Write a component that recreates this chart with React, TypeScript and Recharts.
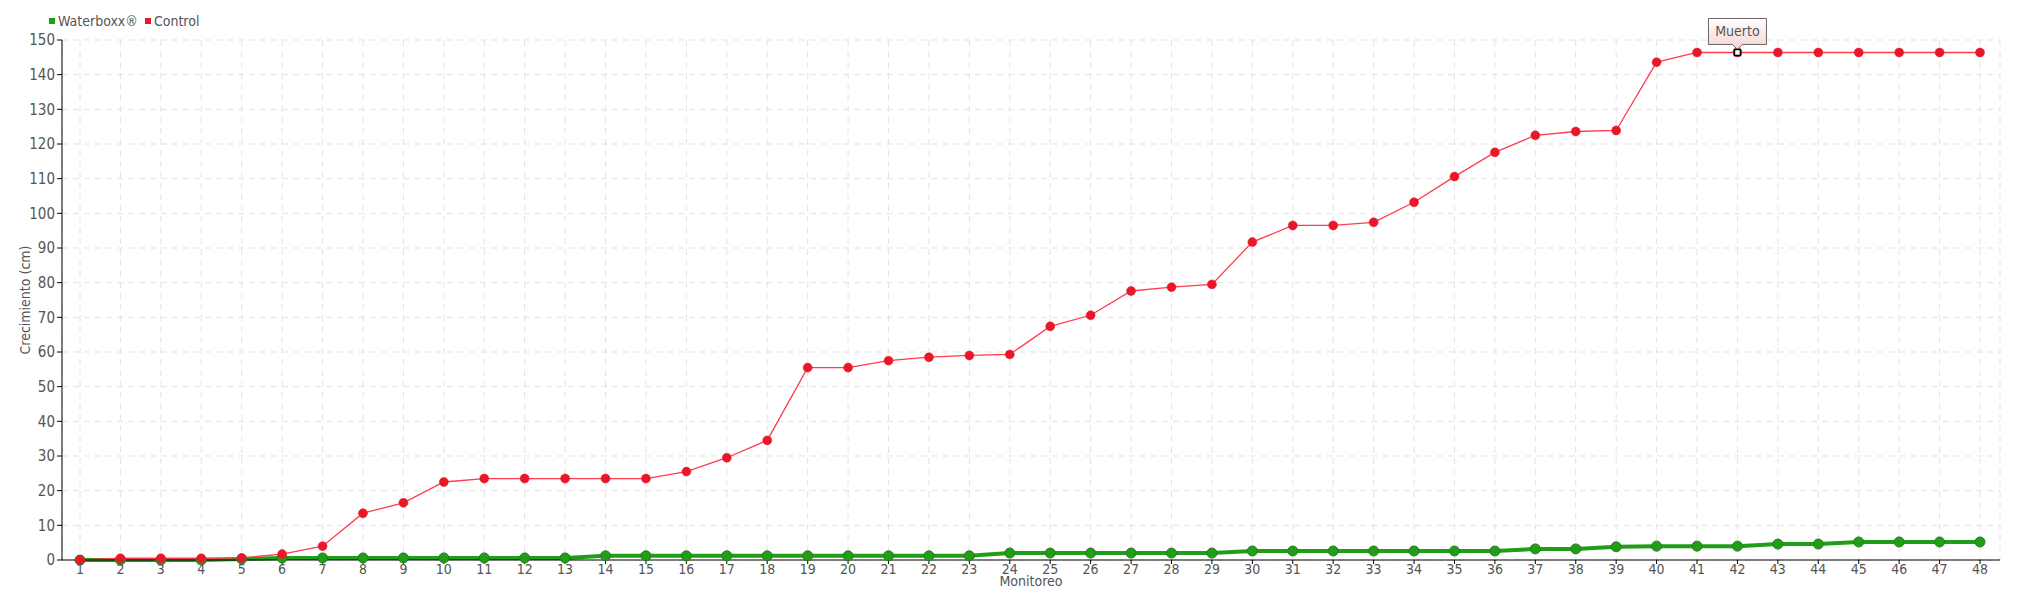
import { LineChart, Line, XAxis, YAxis, CartesianGrid, ReferenceDot } from 'recharts';

// Monitoreo (x categories)
const MONITOREOS = [
  '1', '2', '3', '4', '5', '6', '7', '8', '9', '10', '11', '12',
  '13', '14', '15', '16', '17', '18', '19', '20', '21', '22', '23', '24',
  '25', '26', '27', '28', '29', '30', '31', '32', '33', '34', '35', '36',
  '37', '38', '39', '40', '41', '42', '43', '44', '45', '46', '47', '48',
];

// Crecimiento (cm)
const WATERBOXX = [
  0, 0, 0, 0, 0.3, 0.6, 0.6, 0.6, 0.6, 0.6, 0.6, 0.6,
  0.6, 1.2, 1.2, 1.2, 1.2, 1.2, 1.2, 1.2, 1.2, 1.2, 1.2, 2.0,
  2.0, 2.0, 2.0, 2.0, 2.0, 2.6, 2.6, 2.6, 2.6, 2.6, 2.6, 2.6,
  3.2, 3.2, 3.8, 4.0, 4.0, 4.0, 4.6, 4.6, 5.2, 5.2, 5.2, 5.2,
];

const CONTROL = [
  0, 0.5, 0.5, 0.5, 0.6, 1.7, 4.0, 13.5, 16.5, 22.5, 23.5, 23.5,
  23.5, 23.5, 23.5, 25.5, 29.5, 34.5, 55.5, 55.5, 57.5, 58.5, 59, 59.3,
  67.4, 70.6, 77.6, 78.7, 79.5, 91.7, 96.5, 96.5, 97.4, 103.2, 110.6, 117.6,
  122.5, 123.6, 123.9, 143.6, 146.4, 146.4, 146.4, 146.4, 146.4, 146.4, 146.4, 146.4,
];

const Y_TICKS = [0, 10, 20, 30, 40, 50, 60, 70, 80, 90, 100, 110, 120, 130, 140, 150];

// the "Muerto" flag sits on this monitoreo
const MUERTO_INDEX = 41;

const FONT = "'Liberation Sans Narrow', 'DejaVu Sans Condensed', 'Roboto', sans-serif";
const GREEN = '#1f9e16';
const RED = '#e8182a';
const TEXT = '#555';

const LEGEND = [
  { name: 'Waterboxx®', color: GREEN },
  { name: 'Control', color: RED },
];

const data = MONITOREOS.map((m, i) => ({ m, waterboxx: WATERBOXX[i], control: CONTROL[i] }));

function MuertoMarker({ cx, cy }: any) {
  return (
    <g>
      <defs>
        <linearGradient id="muertoBg" x1="0" y1="0" x2="0" y2="1">
          <stop offset="0" stopColor="#ffffff" />
          <stop offset="1" stopColor="#f8d2d2" />
        </linearGradient>
      </defs>
      <path
        d={`M${cx - 29},${cy - 34} h58 v26 h-24 l-5,5 l-5,-5 h-24 z`}
        fill="url(#muertoBg)"
        stroke="#666"
        strokeWidth={1}
      />
      <text x={cx} y={cy - 16} textAnchor="middle" fontFamily={FONT} fontSize={14} fill={TEXT}>
        Muerto
      </text>
      <rect x={cx - 3} y={cy - 3} width={6} height={6} fill="#fff" stroke="#000" strokeWidth={1.5} />
    </g>
  );
}

export default function App() {
  return (
    <div style={{ position: 'absolute', left: 0, top: 0, width: 2020, height: 600, background: '#fff' }}>
      {/* legend, top-left */}
      <div
        style={{
          position: 'absolute',
          left: 49,
          top: 13,
          display: 'flex',
          gap: 7,
          fontFamily: FONT,
          fontSize: 14,
          color: TEXT,
          zIndex: 1,
        }}
      >
        {LEGEND.map((it) => (
          <span key={it.name} style={{ display: 'flex', alignItems: 'center', gap: 3 }}>
            <span style={{ width: 6, height: 6, background: it.color, display: 'inline-block' }} />
            {it.name}
          </span>
        ))}
      </div>
      <LineChart width={2020} height={600} data={data} margin={{ top: 40, right: 20, bottom: 0, left: 0 }}>
        <CartesianGrid stroke="#e3e3e3" strokeDasharray="6 5" />
        <XAxis
          dataKey="m"
          interval={0}
          padding={{ left: 18, right: 20 }}
          height={40}
          tickSize={4}
          tickMargin={0}
          stroke="#000"
          tick={{ fill: TEXT, fontFamily: FONT, fontSize: 14 }}
          label={({ viewBox }: any) => (
            <text
              x={viewBox.x + viewBox.width / 2}
              y={viewBox.y + 26}
              textAnchor="middle"
              fontFamily={FONT}
              fontSize={14}
              fill={TEXT}
            >
              Monitoreo
            </text>
          )}
        />
        <YAxis
          width={62}
          domain={[0, 150]}
          ticks={Y_TICKS}
          interval={0}
          tickSize={5}
          tickMargin={2}
          stroke="#000"
          tick={{ fill: TEXT, fontFamily: FONT, fontSize: 15 }}
          label={({ viewBox }: any) => {
            const x = 30;
            const y = viewBox.y + viewBox.height / 2;
            return (
              <text
                x={x}
                y={y}
                transform={`rotate(-90, ${x}, ${y})`}
                textAnchor="middle"
                fontFamily={FONT}
                fontSize={14}
                fill={TEXT}
              >
                Crecimiento (cm)
              </text>
            );
          }}
        />
        <Line
          dataKey="waterboxx"
          name="Waterboxx®"
          stroke={GREEN}
          strokeWidth={4}
          dot={{ r: 5, fill: GREEN, stroke: '#2b7a24', strokeWidth: 1 }}
          isAnimationActive={false}
        />
        <Line
          dataKey="control"
          name="Control"
          stroke="#ff3b4e"
          strokeWidth={1.3}
          dot={{ r: 4.5, fill: RED, stroke: RED, strokeWidth: 0.5 }}
          isAnimationActive={false}
        />
        <ReferenceDot
          x={MONITOREOS[MUERTO_INDEX]}
          y={CONTROL[MUERTO_INDEX]}
          shape={(p: any) => <MuertoMarker {...p} />}
        />
      </LineChart>
    </div>
  );
}
